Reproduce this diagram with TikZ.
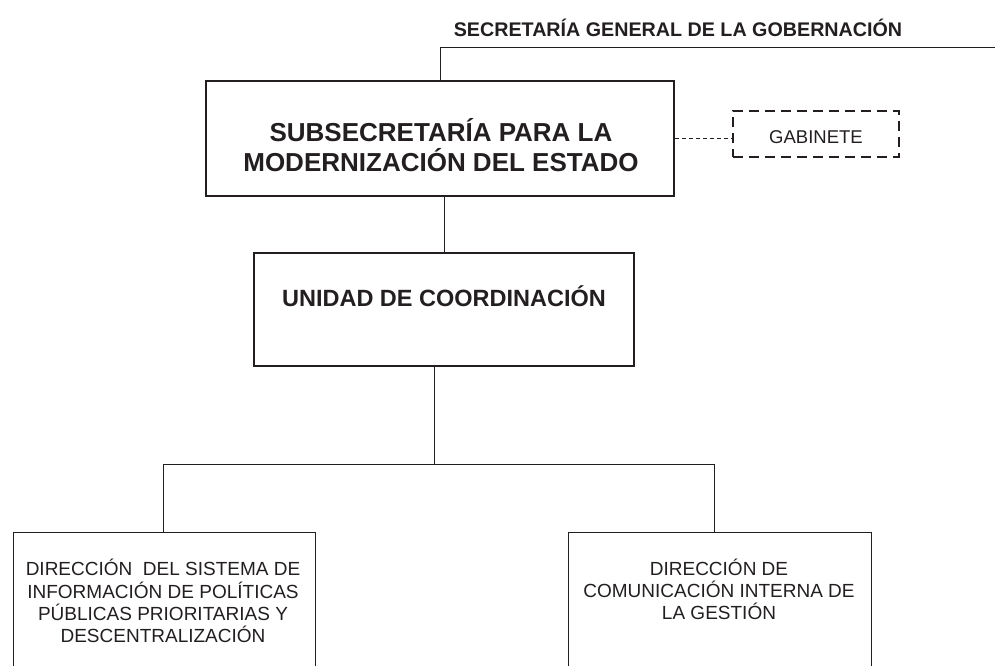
\documentclass[tikz,border=0pt]{standalone}
\usepackage{fontspec}
\setmainfont{Liberation Sans}
\definecolor{ink}{HTML}{231F20}
\begin{document}
\begin{tikzpicture}[x=1pt,y=-1pt,
  thickbox/.style={draw=ink, line width=2.8pt, inner sep=0pt},
  thinbox/.style={draw=ink, line width=1pt, inner sep=0pt},
  dashbox/.style={draw=ink, line width=2.4pt, dash pattern=on 10pt off 6pt, inner sep=0pt},
  conn/.style={draw=ink, line width=1pt},
  dconn/.style={draw=ink, line width=1pt, dash pattern=on 4pt off 3pt},
  bigtxt/.style={text=ink, align=center, inner sep=0pt, font=\fontsize{26}{30}\selectfont\bfseries},
  midtxt/.style={text=ink, align=center, inner sep=0pt, font=\fontsize{23.5}{28}\selectfont\bfseries},
  toptxt/.style={text=ink, inner sep=0pt, font=\fontsize{19.7}{23}\selectfont\bfseries},
  smalltxt/.style={text=ink, align=center, inner sep=0pt, font=\fontsize{19}{22.2}\selectfont},
  gabtxt/.style={text=ink, inner sep=0pt, font=\fontsize{18.5}{22}\selectfont}
]
\useasboundingbox (0,0) rectangle (995,666);
\clip (0,0) rectangle (995,666);
\fill[white] (0,0) rectangle (995,666);

% top label
\node[toptxt] (sg) at (678,28) {SECRETARÍA GENERAL DE LA GOBERNACIÓN};
\coordinate (edge) at (995,48);

% main boxes
\node[thickbox, minimum width=468pt, minimum height=115pt] (sub) at (440,138.5) {};
\node[bigtxt] (subt) at (441,145) {SUBSECRETARÍA PARA LA\\MODERNIZACIÓN DEL ESTADO};

\node[dashbox, minimum width=166pt, minimum height=46pt] (gab) at (816,134) {};
\node[gabtxt] (gabt) at (816,137) {GABINETE};

\node[thickbox, minimum width=380pt, minimum height=113pt] (uc) at (444,309.5) {};
\node[midtxt] (uct) at (444,296) {UNIDAD DE COORDINACIÓN};

% bottom boxes
\node[thinbox, minimum width=302pt, minimum height=140pt] (dl) at (164,602) {};
\node[smalltxt] (dlt) at (163,601) {DIRECCIÓN~ DEL SISTEMA DE\\INFORMACIÓN DE POLÍTICAS\\PÚBLICAS PRIORITARIAS Y\\DESCENTRALIZACIÓN};

\node[thinbox, minimum width=303pt, minimum height=140pt] (dr) at (719.5,602) {};
\node[smalltxt] (drt) at (719,589.5) {DIRECCIÓN DE\\COMUNICACIÓN INTERNA DE\\LA GESTIÓN};

% connectors
\draw[conn] (edge) -| (sub.north);
\draw[conn] (uc.north) -- (uc.north |- sub.south);
\draw[dconn] (sub.east) -- (sub.east -| gab.west);

\coordinate (j) at (434,464);
\coordinate (jl) at (163,464);
\coordinate (jr) at (714,464);
\draw[conn] (uc.south -| j) -- (j);
\draw[conn] (jl |- dl.north) -- (jl) -- (jr) -- (jr |- dr.north);
\end{tikzpicture}
\end{document}
